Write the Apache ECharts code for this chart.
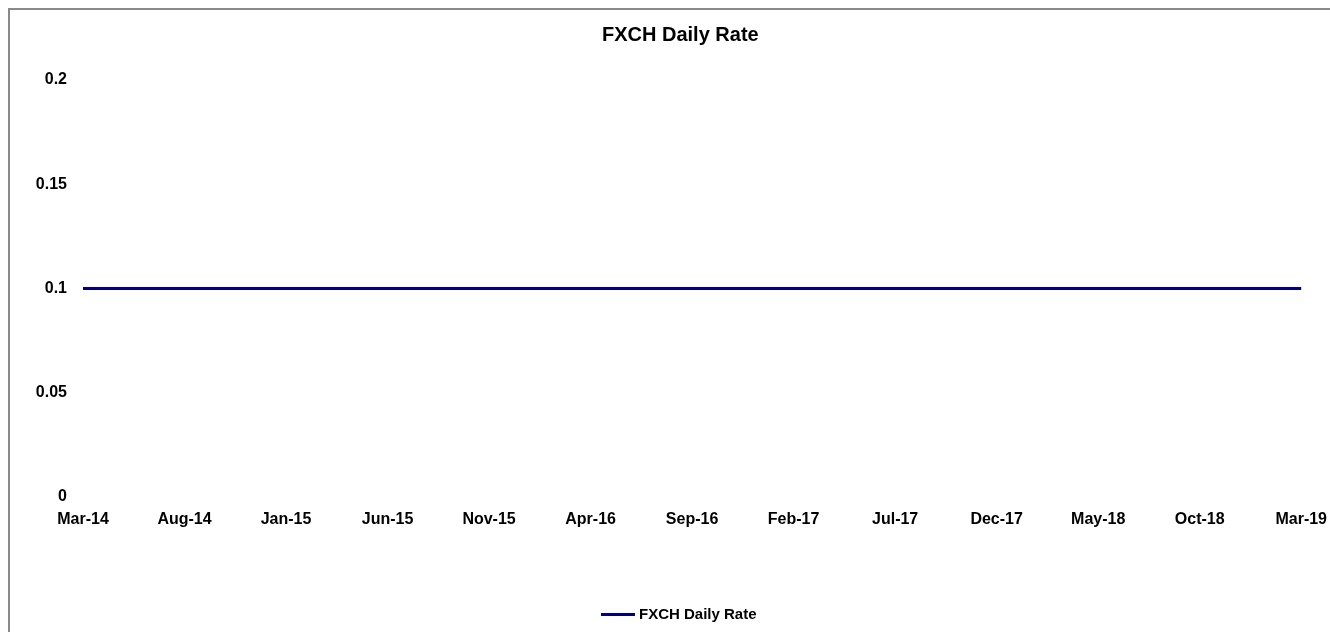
<!DOCTYPE html>
<html>
<head>
<meta charset="utf-8">
<script src="https://cdn.jsdelivr.net/npm/echarts@6/dist/echarts.min.js"></script>
<style>
  html, body { margin: 0; padding: 0; background: #fff; }
  #main { width: 1330px; height: 632px; }
</style>
</head>
<body>
<div id="main"></div>
<script>
// month labels shown on the x axis (every 5 months)
const months = ['Mar-14', 'Aug-14', 'Jan-15', 'Jun-15', 'Nov-15', 'Apr-16', 'Sep-16',
  'Feb-17', 'Jul-17', 'Dec-17', 'May-18', 'Oct-18', 'Mar-19']
// rate stays flat at 0.1 the whole period
const rates = [0.1, 0.1, 0.1, 0.1, 0.1, 0.1, 0.1, 0.1, 0.1, 0.1, 0.1, 0.1, 0.1]

const font = 'Liberation Sans, Arial, sans-serif'

const chart = echarts.init(document.getElementById('main'))
chart.setOption({
  animation: false,
  backgroundColor: '#fff',
  textStyle: { fontFamily: font },
  graphic: [{
    type: 'rect',
    shape: { x: 9, y: 9, width: 1400, height: 700 },
    style: { fill: 'none', stroke: '#8a8a8a', lineWidth: 2 },
    silent: true
  }],
  title: {
    text: 'FXCH Daily Rate',
    left: 597,
    top: 20,
    textStyle: { fontFamily: font, fontSize: 20, fontWeight: 'bold', color: '#000' }
  },
  legend: {
    bottom: 5,
    left: 596,
    icon: 'rect',
    itemWidth: 34,
    itemHeight: 3,
    itemGap: 10,
    textStyle: { fontFamily: font, fontSize: 15, fontWeight: 'bold', color: '#000', padding: [0, 0, 0, -1] },
    data: ['FXCH Daily Rate']
  },
  grid: { left: 83, right: 24, top: 80, bottom: 135, containLabel: false },
  xAxis: {
    type: 'category',
    data: months,
    boundaryGap: false,
    axisLine: { show: false },
    axisTick: { show: false },
    axisLabel: {
      interval: 0,
      margin: 15,
      fontFamily: font,
      fontSize: 16,
      fontWeight: 'bold',
      color: '#000'
    },
    splitLine: { show: false }
  },
  yAxis: {
    type: 'value',
    min: 0,
    max: 0.2,
    interval: 0.05,
    axisLine: { show: false },
    axisTick: { show: false },
    splitLine: { show: false },
    axisLabel: {
      margin: 16,
      fontFamily: font,
      fontSize: 16,
      fontWeight: 'bold',
      color: '#000'
    }
  },
  series: [{
    name: 'FXCH Daily Rate',
    type: 'line',
    data: rates,
    symbol: 'none',
    itemStyle: { color: '#000080' },
    lineStyle: { color: '#000080', width: 3 }
  }]
})
</script>
</body>
</html>
